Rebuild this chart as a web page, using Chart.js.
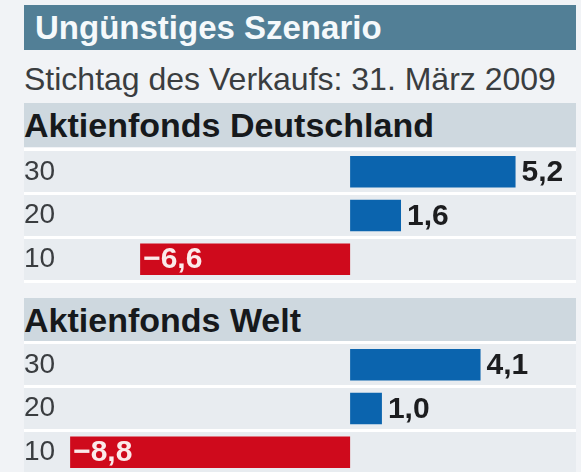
<!DOCTYPE html>
<html lang="de">
<head>
<meta charset="utf-8">
<script src="https://cdn.jsdelivr.net/npm/chart.js@4"></script>
<style>
    body { margin: 0; width: 581px; height: 472px; overflow: hidden; background: #f1f3f6; font-family: "Liberation Sans", Arial, sans-serif; position: relative; }
    .title { position: absolute; left: 24px; top: 5px; width: 541px; height: 45px; line-height: 45px; padding-left: 11px; background: #527f96; color: #f5f9fb; font-weight: bold; font-size: 33px; white-space: nowrap; }
    .sub { position: absolute; left: 24px; top: 59px; height: 40px; line-height: 40px; color: #3a3d40; font-size: 32px; white-space: nowrap; }
    .band { position: absolute; left: 24px; width: 552px; height: 44px; line-height: 44px; background: #ced8df; color: #16191c; font-weight: bold; font-size: 34px; white-space: nowrap; }
    canvas { position: absolute; left: 0; }
</style>
</head>
<body>
<div class="title" id="title"></div>
<div class="sub" id="sub"></div>
<div class="band" id="band1" style="top:103px"></div>
<canvas id="chartDeutschland" width="581" height="135" style="top:148px"></canvas>
<div class="band" id="band2" style="top:298px"></div>
<canvas id="chartWelt" width="581" height="135" style="top:341px"></canvas>
<script>
// 텍스트
const titleText = 'Ungünstiges Szenario';
const subtitleText = 'Stichtag des Verkaufs: 31. März 2009';
const sectionNames = ['Aktienfonds Deutschland', 'Aktienfonds Welt'];

// Y축: 기간(년)
const rowLabels = ['30', '20', '10'];
// X축: 수익률 (%)
const deutschlandValues = [5.2, 1.6, -6.6];
const weltValues = [4.1, 1.0, -8.8];

// 축 범위
const xMin = -10.25;
const xMax = 7.1;

document.getElementById('title').textContent = titleText;
document.getElementById('sub').textContent = subtitleText;
document.getElementById('band1').textContent = sectionNames[0];
document.getElementById('band2').textContent = sectionNames[1];

// 독일식 숫자 표기 (5,2 / −6,6)
function formatValue(v) {
    return v.toFixed(1).replace('.', ',').replace('-', '\u2212');
}

// 차트 영역 배경
const areaBackground = {
    id: 'areaBackground',
    beforeDraw(chart) {
        const { ctx, chartArea } = chart;
        ctx.save();
        ctx.fillStyle = '#e8ecf0';
        ctx.fillRect(chartArea.left, chartArea.top, chartArea.right - chartArea.left, chartArea.bottom - chartArea.top);
        ctx.restore();
    }
};

// 막대 값 라벨
const valueLabels = {
    id: 'valueLabels',
    afterDatasetsDraw(chart) {
        const ctx = chart.ctx;
        const values = chart.data.datasets[0].data;
        chart.getDatasetMeta(0).data.forEach((bar, i) => {
            const v = values[i];
            ctx.save();
            ctx.font = 'bold 30px "Liberation Sans", Arial, sans-serif';
            ctx.textBaseline = 'middle';
            ctx.textAlign = 'left';
            if (v >= 0) {
                ctx.fillStyle = '#1c1d1f';
                ctx.fillText(formatValue(v), bar.x + 6, bar.y + 1);
            } else {
                ctx.fillStyle = '#fbeaea';
                ctx.fillText(formatValue(v), bar.x + 3, bar.y + 1);
            }
            ctx.restore();
        });
    }
};

function drawChart(canvasId, values) {
    const ctx = document.getElementById(canvasId).getContext('2d');
    new Chart(ctx, {
        type: 'bar',
        data: {
            labels: rowLabels,
            datasets: [{
                data: values,
                backgroundColor: values.map(v => v >= 0 ? '#0b64ae' : '#cf0a1c'), // 양수 파랑, 음수 빨강
                borderWidth: 0,
                barPercentage: 0.72,
                categoryPercentage: 1
            }]
        },
        options: {
            indexAxis: 'y',
            responsive: false,
            animation: false,
            layout: { padding: { left: 24, right: 5, top: 2, bottom: 2 } },
            plugins: {
                legend: { display: false },
                tooltip: { enabled: false }
            },
            scales: {
                x: {
                    display: false,
                    min: xMin,
                    max: xMax
                },
                y: {
                    grid: {
                        color: '#ffffff',
                        lineWidth: 3,
                        drawTicks: false
                    },
                    border: { display: false },
                    ticks: {
                        mirror: true,
                        padding: 0,
                        color: '#3a3d40',
                        font: { family: '"Liberation Sans", Arial, sans-serif', size: 28 }
                    },
                    // 라벨 높이 때문에 생기는 여백 제거
                    afterFit(scale) {
                        scale.paddingTop = 0;
                        scale.paddingBottom = 0;
                    }
                }
            }
        },
        plugins: [areaBackground, valueLabels]
    });
}

document.addEventListener('DOMContentLoaded', function () {
    drawChart('chartDeutschland', deutschlandValues);
    drawChart('chartWelt', weltValues);
});
</script>
</body>
</html>
